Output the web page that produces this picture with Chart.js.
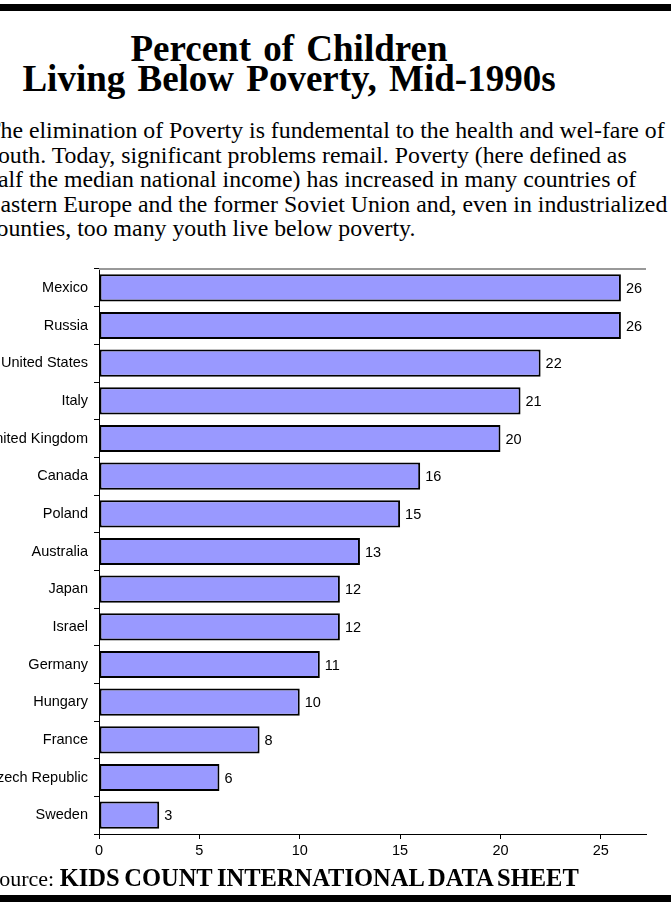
<!DOCTYPE html>
<html>
<head>
<meta charset="utf-8">
<script src="https://cdn.jsdelivr.net/npm/chart.js@4"></script>
<style>
    html, body { margin: 0; padding: 0; background: #fff; }
    body { width: 671px; height: 902px; position: relative; overflow: hidden; }
    .rule { position: absolute; left: 0; width: 671px; background: #000; }
    .rule--top { top: 4px; height: 7px; }
    .rule--bottom { top: 895px; height: 7px; }
    .title {
        position: absolute; left: 0; top: 34px; width: 578px;
        text-align: center; font: bold 37px "Liberation Serif", "Times New Roman", serif;
        line-height: 30px; word-spacing: 3px; color: #000;
    }
    .intro {
        position: absolute; left: -14px; top: 118px; width: 720px;
        font: 23.8px "Liberation Serif", "Times New Roman", serif; line-height: 24.5px;
        color: #000; white-space: nowrap;
    }
    .chart-wrap { position: absolute; left: -30px; top: 250px; width: 700px; height: 620px; }
    .source {
        position: absolute; left: -13px; top: 864px; white-space: nowrap;
        font: 22px "Liberation Serif", "Times New Roman", serif; color: #000;
    }
    .source b { font-weight: bold; font-size: 24.5px; word-spacing: -1.5px; }
</style>
</head>
<body>
<div class="rule rule--top"></div>
<div class="title">Percent of Children<br>Living Below Poverty, Mid-1990s</div>
<div class="intro">
    The elimination of Poverty is fundemental to the health and wel-fare of<br>
    youth.  Today, significant problems remail.  Poverty (here defined as<br>
    half the median national income) has increased in many countries of<br>
    Eastern Europe and the former Soviet Union and, even in industrialized<br>
    counties, too many youth live below poverty.
</div>
<div class="chart-wrap"><canvas id="povertyChart" width="700" height="620"></canvas></div>
<div class="source">Source: <b>KIDS COUNT INTERNATIONAL DATA SHEET</b></div>
<div class="rule rule--bottom"></div>

<script>
/* Dzieci poniżej progu ubóstwa — poziomy wykres słupkowy */

const countries = [
    'Mexico', 'Russia', 'United States', 'Italy', 'United Kingdom',
    'Canada', 'Poland', 'Australia', 'Japan', 'Israel',
    'Germany', 'Hungary', 'France', 'Czech Republic', 'Sweden'
];
const povertyPercent = [26, 26, 22, 21, 20, 16, 15, 13, 12, 12, 11, 10, 8, 6, 3];
const axisMin = 0;
const axisMax = 27.25;
const axisStep = 5;

const labelFont = { family: 'Liberation Sans', size: 14.5 };

// wartości przy końcach słupków
const valueLabelsPlugin = {
    id: 'valueLabels',
    afterDatasetsDraw(chart) {
        const { ctx } = chart;
        const meta = chart.getDatasetMeta(0);
        ctx.save();
        ctx.font = `${labelFont.size}px ${labelFont.family}`;
        ctx.fillStyle = '#000';
        ctx.textAlign = 'left';
        ctx.textBaseline = 'middle';
        meta.data.forEach((bar, i) => {
            ctx.fillText(String(povertyPercent[i]), bar.x + 5, bar.y + 1);
        });
        ctx.restore();
    }
};

// szara górna krawędź obszaru wykresu
const plotTopBorderPlugin = {
    id: 'plotTopBorder',
    beforeDatasetsDraw(chart) {
        const { ctx, chartArea } = chart;
        ctx.save();
        ctx.strokeStyle = '#999';
        ctx.lineWidth = 2;
        ctx.beginPath();
        ctx.moveTo(chartArea.left, chartArea.top);
        ctx.lineTo(chartArea.right, chartArea.top);
        ctx.stroke();
        ctx.restore();
    }
};

const canvas = document.getElementById('povertyChart');

new Chart(canvas.getContext('2d'), {
    type: 'bar',
    data: {
        labels: countries,
        datasets: [{
            data: povertyPercent,
            backgroundColor: '#9999ff',
            borderColor: '#000',
            borderWidth: 2,
            borderSkipped: false,
            barPercentage: 0.72,
            categoryPercentage: 1
        }]
    },
    options: {
        indexAxis: 'y',
        responsive: false,
        animation: false,
        layout: { padding: { top: 19, right: 24, left: 0, bottom: 0 } },
        plugins: {
            legend: { display: false },
            tooltip: { enabled: false }
        },
        scales: {
            x: {
                min: axisMin,
                max: axisMax,
                border: { display: true, color: '#000', width: 1 },
                grid: { drawOnChartArea: false, drawTicks: true, tickLength: 5, color: '#000' },
                ticks: {
                    stepSize: axisStep,
                    includeBounds: false,
                    color: '#000',
                    font: labelFont,
                    padding: 3,
                    maxRotation: 0
                },
                afterFit: (scale) => { scale.height = 36; }
            },
            y: {
                border: { display: true, color: '#000', width: 1 },
                grid: { drawOnChartArea: false, drawTicks: true, tickLength: 5, color: '#000', offset: true },
                ticks: { color: '#000', font: labelFont, padding: 6, autoSkip: false },
                afterFit: (scale) => { scale.width = 129; }
            }
        }
    },
    plugins: [plotTopBorderPlugin, valueLabelsPlugin]
});
</script>
</body>
</html>
